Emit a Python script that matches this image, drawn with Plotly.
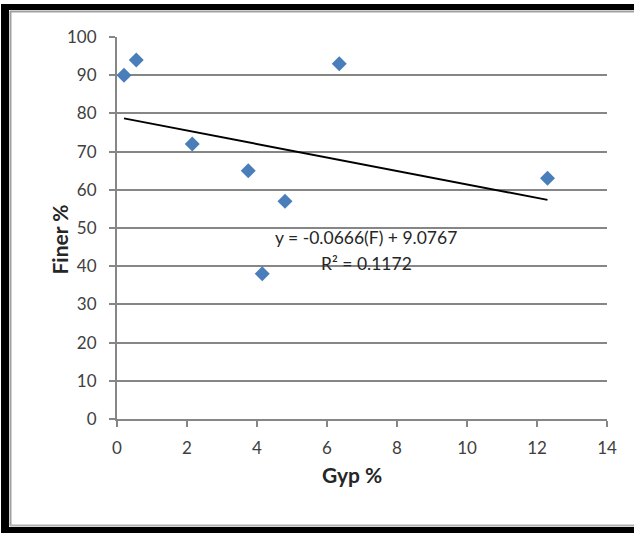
import numpy as np
import plotly.graph_objects as go

# Data
gyp = [0.2, 0.55, 2.15, 3.75, 4.8, 4.15, 6.35, 12.3]
finer = [90, 94, 72, 65, 57, 38, 93, 63]
x_ticks = [0, 2, 4, 6, 8, 10, 12, 14]
y_ticks = [0, 10, 20, 30, 40, 50, 60, 70, 80, 90, 100]
eq_text = "y = -0.0666(F) + 9.0767"
r2_text = "R² = 0.1172"

W, H = 634, 533
L, R, T, B = 117, 27, 37, 114
pw, ph = W - L - R, H - T - B


def px(xp):
    return (xp - L) / pw


def py(yp):
    return (H - B - yp) / ph


slope, inter = np.polyfit(gyp, finer, 1)
tx = [min(gyp), max(gyp)]
ty = [slope * v + inter for v in tx]

fig = go.Figure()
fig.add_trace(go.Scatter(
    x=gyp, y=finer, mode="markers",
    marker=dict(symbol="diamond", size=11.5, color="#4A7EBB", line=dict(width=0)),
    showlegend=False,
))
fig.add_trace(go.Scatter(
    x=tx, y=ty, mode="lines", line=dict(color="black", width=2), showlegend=False,
))

axis_col = "#868686"
font_main = "Lato, 'Open Sans', sans-serif"
fig.update_layout(
    width=W, height=H,
    margin=dict(l=L, r=R, t=T, b=B),
    paper_bgcolor="white", plot_bgcolor="white",
    font=dict(family=font_main, color="#404040", size=17),
    xaxis=dict(range=[0, 14], tickvals=x_ticks, showgrid=False, zeroline=False,
               showline=True, linecolor=axis_col, linewidth=2,
               ticks="outside", ticklen=6, tickwidth=2, tickcolor=axis_col,
               ticklabelstandoff=7,
               tickfont=dict(size=17, color="#404040")),
    yaxis=dict(range=[0, 100], tickvals=y_ticks, showgrid=True, gridcolor=axis_col,
               gridwidth=2, zeroline=False,
               showline=True, linecolor=axis_col, linewidth=2,
               ticks="outside", ticklen=6, tickwidth=2, tickcolor=axis_col,
               ticklabelstandoff=9,
               tickfont=dict(size=17, color="#404040")),
)

fig.add_annotation(x=px(352), y=py(489), xref="paper", yref="paper", text="<b>Gyp %</b>",
                   showarrow=False, font=dict(size=21, color="#262626", family=font_main))
fig.add_annotation(x=px(45), y=py(240), xref="paper", yref="paper", text="<b>Finer %</b>",
                   showarrow=False, textangle=-90, font=dict(size=21, color="#262626", family=font_main))
fig.add_annotation(x=px(366), y=py(237), xref="paper", yref="paper", text=eq_text,
                   showarrow=False, font=dict(size=17.5, color="#262626", family=font_main))
fig.add_annotation(x=px(366), y=py(263), xref="paper", yref="paper", text=r2_text,
                   showarrow=False, font=dict(size=17.5, color="#262626", family=font_main))

# frame
frame = [
    (1, 4, 640, 10, "black"),
    (1, 4, 9, 540, "black"),
    (1, 527, 640, 540, "black"),
]
for x0, y0, x1, y1, c in frame:
    fig.add_shape(type="rect", xref="paper", yref="paper", x0=px(x0), x1=px(x1),
                  y0=py(y0), y1=py(y1), fillcolor=c, line=dict(width=0), layer="above")
fig.add_shape(type="line", xref="paper", yref="paper", x0=px(10), x1=px(640), y0=py(11.5), y1=py(11.5),
              line=dict(color="#A0A0A0", width=2))
fig.add_shape(type="line", xref="paper", yref="paper", x0=px(10.5), x1=px(10.5), y0=py(11), y1=py(526),
              line=dict(color="#A0A0A0", width=2))
fig.add_shape(type="line", xref="paper", yref="paper", x0=px(10), x1=px(640), y0=py(525.5), y1=py(525.5),
              line=dict(color="#B0B0B0", width=2))

fig.write_html("out.html", config={"displayModeBar": False},
               post_script="document.body.style.margin='0';document.body.style.overflow='hidden';")
